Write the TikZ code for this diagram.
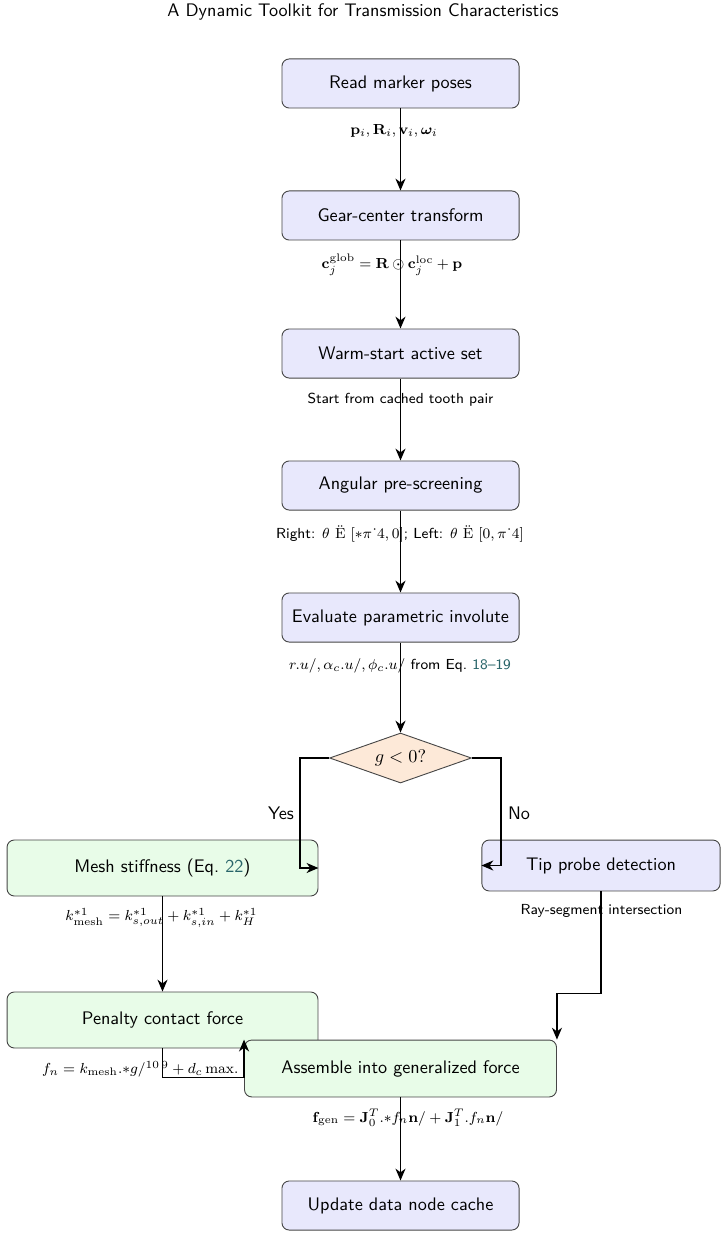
\documentclass[tikz,border=0pt]{standalone}
\usepackage{amsmath,amssymb,bm}
\usetikzlibrary{arrows.meta,shapes.geometric,calc}
\definecolor{bluefill}{RGB}{232,232,252}
\definecolor{greenfill}{RGB}{232,252,232}
\definecolor{orangefill}{RGB}{253,233,216}
\definecolor{linkc}{RGB}{40,100,105}
\definecolor{boxline}{RGB}{70,70,70}
\begin{document}
\begin{tikzpicture}[x=0.55pt,y=-0.55pt,font=\sffamily,
  boxbase/.style={draw=boxline,line width=0.5pt,rounded corners=4pt,align=center,inner sep=2pt},
  mainbox/.style={boxbase,fill=bluefill,minimum width=130.4pt,minimum height=27pt},
  tipbox/.style={boxbase,fill=bluefill,minimum width=131pt,minimum height=28pt},
  greenbox/.style={boxbase,fill=greenfill,minimum width=171pt,minimum height=30.8pt},
  decision/.style={diamond,draw=boxline,line width=0.5pt,fill=orangefill,aspect=2.84,inner sep=0pt,minimum width=78pt,minimum height=27.5pt},
  lbl/.style={font=\sffamily\footnotesize,inner sep=1pt},
  arr/.style={draw,line width=0.8pt,-{Stealth[length=6.5pt,width=5.5pt,inset=2pt]}}]
\useasboundingbox (0,0) rectangle (727,1242);
\node[font=\sffamily] (title) at (363,12) {A Dynamic Toolkit for Transmission Characteristics};

\node[mainbox] (read) at (400.5,83.5) {Read marker poses};
\node[mainbox] (gear) at (400.5,215.5) {Gear-center transform};
\node[mainbox] (warm) at (400.5,353.5) {Warm-start active set};
\node[mainbox] (ang) at (400.5,485.5) {Angular pre-screening};
\node[mainbox] (inv) at (400.5,617.5) {Evaluate parametric involute};
\node[decision] (dia) at (400.5,758) {$g<0?$};
\node[greenbox] (mesh) at (162.5,868) {Mesh stiffness (Eq.~\textcolor{linkc}{22})};
\node[tipbox] (tip) at (601,865.5) {Tip probe detection};
\node[greenbox] (pen) at (162.5,1020) {Penalty contact force};
\node[lbl,anchor=west] (lfn) at (40,1069) {$f_n = k_{\mathrm{mesh}}.{*}g/^{10\,9} + d_c\,\mathrm{max}.$};
\node[greenbox,minimum width=171.6pt,minimum height=31.3pt] (asm) at (400.5,1068.5) {Assemble into generalized force};
\node[mainbox] (upd) at (400.5,1205.5) {Update data node cache};

\draw[arr] (read) -- (gear);
\draw[arr] (gear) -- (warm);
\draw[arr] (warm) -- (ang);
\draw[arr] (ang) -- (inv);
\draw[arr] (inv) -- (dia);
\draw[arr] (dia.west) -- ++(-29,0) |- (mesh.east);
\draw[arr] (dia.east) -- ++(29,0) |- (tip.west);
\draw[arr] (mesh) -- (pen);
\draw[arr] (tip.south) -- ++(0,102) -| (asm.north east);
\draw[arr] (pen.south) -- ++(0,29) -| (asm.north west);
\draw[arr] (asm) -- (upd);

\node (yes) at (281,813) {Yes};
\node (no) at (519,813) {No};
\node[lbl] (l1) at (394,131) {$\mathbf{p}_i, \mathbf{R}_i, \mathbf{v}_i, \bm{\omega}_i$};
\node[lbl] (l2) at (392,265) {$\mathbf{c}_j^{\mathrm{glob}} = \mathbf{R}\odot\mathbf{c}_j^{\mathrm{loc}} + \mathbf{p}$};
\node[lbl] (l3) at (400.5,400) {Start from cached tooth pair};
\node[lbl] (l4) at (400,534) {Right: $\theta\ \ddot{\mathrm{E}}\ [{*}\pi\,\dot{}\,4,0]$; Left: $\theta\ \ddot{\mathrm{E}}\ [0,\pi\,\dot{}\,4]$};
\node[lbl] (l5) at (400,666) {$r.u/, \alpha_c.u/, \phi_c.u/$ from Eq.~\textcolor{linkc}{18--19}};
\node[lbl] (l6) at (161.5,918) {$k^{*1}_{\mathrm{mesh}} = k^{*1}_{s,out} + k^{*1}_{s,in} + k^{*1}_{H}$};
\node[lbl] (l7) at (601.5,911) {Ray-segment intersection};
\node[lbl] (l8) at (408,1118) {$\mathbf{f}_{\mathrm{gen}} = \mathbf{J}_0^T.{*}f_n\mathbf{n}/ + \mathbf{J}_1^T.f_n\mathbf{n}/$};
\end{tikzpicture}
\end{document}
